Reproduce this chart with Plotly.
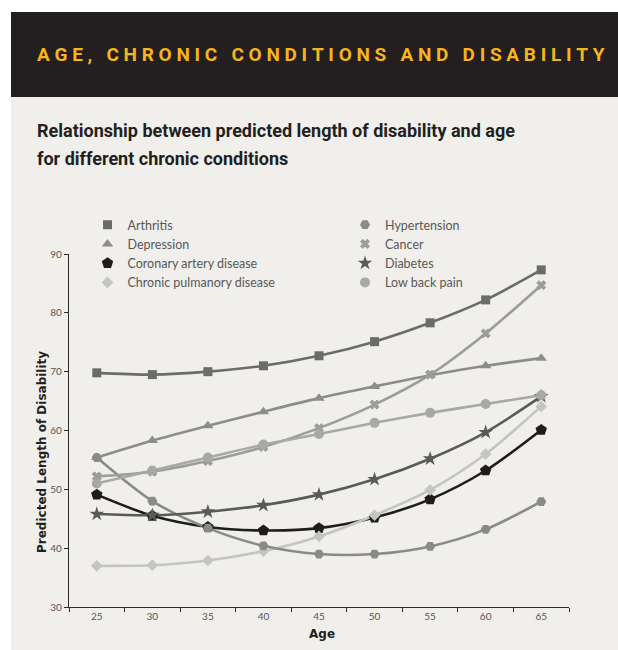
import plotly.graph_objects as go

# Ages (category axis) and predicted length of disability per condition
ages = ["25", "30", "35", "40", "45", "50", "55", "60", "65"]

arthritis = [69.8, 69.5, 70.0, 71.0, 72.7, 75.1, 78.3, 82.2, 87.3]
depression = [55.4, 58.3, 60.8, 63.2, 65.5, 67.5, 69.4, 71.0, 72.3]
coronary = [49.1, 45.5, 43.6, 43.0, 43.4, 45.2, 48.3, 53.2, 60.1]
copd = [37.0, 37.1, 37.9, 39.5, 42.0, 45.6, 49.9, 56.0, 64.1]
hypertension = [55.4, 48.0, 43.4, 40.4, 39.0, 39.0, 40.3, 43.2, 47.9]
cancer = [52.2, 53.0, 54.8, 57.2, 60.4, 64.4, 69.5, 76.5, 84.7]
diabetes = [45.8, 45.6, 46.2, 47.3, 49.1, 51.7, 55.2, 59.7, 65.8]
low_back = [51.0, 53.2, 55.4, 57.6, 59.4, 61.3, 63.0, 64.5, 66.0]

# (name, values, colour, symbol, marker size, legend column)
series = [
    ("Arthritis", arthritis, "#6b6b6b", "square", 9, "legend"),
    ("Depression", depression, "#8c8c8c", "triangle-up", 10, "legend"),
    ("Coronary artery disease", coronary, "#1f1c1d", "pentagon", 12, "legend"),
    ("Chronic pulmanory disease", copd, "#c4c4c4", "diamond", 9, "legend"),
    ("Hypertension", hypertension, "#8a8a8a", "hexagon2", 10, "legend2"),
    ("Cancer", cancer, "#9c9c9c", "x", 8, "legend2"),
    ("Diabetes", diabetes, "#5a5a5a", "star", 11, "legend2"),
    ("Low back pain", low_back, "#a8a8a8", "circle", 10, "legend2"),
]

W, H = 618, 650
PX0, PX1, PY0, PY1 = 69, 569, 254, 607  # plot area in pixels


def px(x):
    return (x - PX0) / (PX1 - PX0)


def py(y):
    return (PY1 - y) / (PY1 - PY0)


HEAD = "Roboto, Liberation Sans, sans-serif"
BODY = "Lato, Open Sans, sans-serif"

fig = go.Figure()

# draw the lines first so every marker sits on top of them
for name, vals, col, sym, size, leg in series:
    fig.add_trace(go.Scatter(
        x=ages, y=vals, mode="lines", name=name, showlegend=False,
        line=dict(color=col, width=2.6, shape="spline", smoothing=0.8),
        hoverinfo="skip",
    ))
for name, vals, col, sym, size, leg in series:
    fig.add_trace(go.Scatter(
        x=ages, y=vals, mode="markers", name=name, legend=leg,
        marker=dict(color=col, symbol=sym, size=size,
                    line=dict(width=1 if sym == "x" else 0, color=col)),
    ))

shapes = [
    # light panel
    dict(type="rect", xref="paper", yref="paper", x0=px(11), x1=px(W), y0=py(H), y1=py(97),
         fillcolor="#f0efeb", line=dict(width=0), layer="below"),
    # dark header band
    dict(type="rect", xref="paper", yref="paper", x0=px(11), x1=px(W), y0=py(97), y1=py(12),
         fillcolor="#231f20", line=dict(width=0), layer="below"),
]

NB = "\u00a0"
header_words = ["AGE,", "CHRONIC", "CONDITIONS", "AND", "DISABILITY"]
header = (NB * 3).join(NB.join(w) for w in header_words)

annotations = [
    dict(text="<b>" + header + "</b>", xref="paper", yref="paper", x=px(35), y=py(55),
         xanchor="left", yanchor="middle", showarrow=False,
         font=dict(family=HEAD, size=19, color="#f5b51b")),
    dict(text="<b>Relationship between predicted length of disability and age</b>",
         xref="paper", yref="paper", x=px(35), y=py(130), xanchor="left", yanchor="middle",
         showarrow=False, font=dict(family=HEAD, size=18, color="#231f20")),
    dict(text="<b>for different chronic conditions</b>",
         xref="paper", yref="paper", x=px(35), y=py(158), xanchor="left", yanchor="middle",
         showarrow=False, font=dict(family=HEAD, size=18, color="#231f20")),
    dict(text="<b>Predicted Length of Disability</b>", xref="paper", yref="paper",
         x=px(42), y=py(452), textangle=-90, xanchor="center", yanchor="middle",
         showarrow=False, font=dict(family="DejaVu Sans, sans-serif", size=12, color="#231f20")),
    dict(text="<b>Age</b>", xref="paper", yref="paper", x=px(322), y=py(634),
         xanchor="center", yanchor="middle", showarrow=False,
         font=dict(family="DejaVu Sans, sans-serif", size=12, color="#231f20")),
]

legend_style = dict(
    orientation="v", xanchor="left", yanchor="top", bgcolor="rgba(0,0,0,0)",
    borderwidth=0, tracegroupgap=0, itemclick=False, itemdoubleclick=False,
    font=dict(family=BODY, size=12.5, color="#58585a"),
)

fig.update_layout(
    width=W, height=H,
    margin=dict(l=PX0, r=W - PX1, t=PY0, b=H - PY1, pad=0),
    paper_bgcolor="#ffffff",
    plot_bgcolor="rgba(0,0,0,0)",
    shapes=shapes,
    annotations=annotations,
    legend=dict(x=px(87.5), y=py(210), **legend_style),
    legend2=dict(x=px(345), y=py(210), **legend_style),
    xaxis=dict(
        type="category", range=[-0.5, 8.5], tickson="boundaries",
        showline=True, linecolor="#2b2b2b", linewidth=1.2,
        ticks="outside", ticklen=4, tickcolor="#2b2b2b", tickwidth=1,
        showgrid=False, zeroline=False,
        tickfont=dict(family=BODY, size=10, color="#555555"),
    ),
    yaxis=dict(
        range=[30, 90], tickvals=[30, 40, 50, 60, 70, 80, 90],
        showline=True, linecolor="#2b2b2b", linewidth=1.2,
        ticks="outside", ticklen=4, tickcolor="#2b2b2b", tickwidth=1,
        showgrid=False, zeroline=False,
        tickfont=dict(family=BODY, size=10, color="#555555"),
    ),
)

fig.write_html("out.html")
